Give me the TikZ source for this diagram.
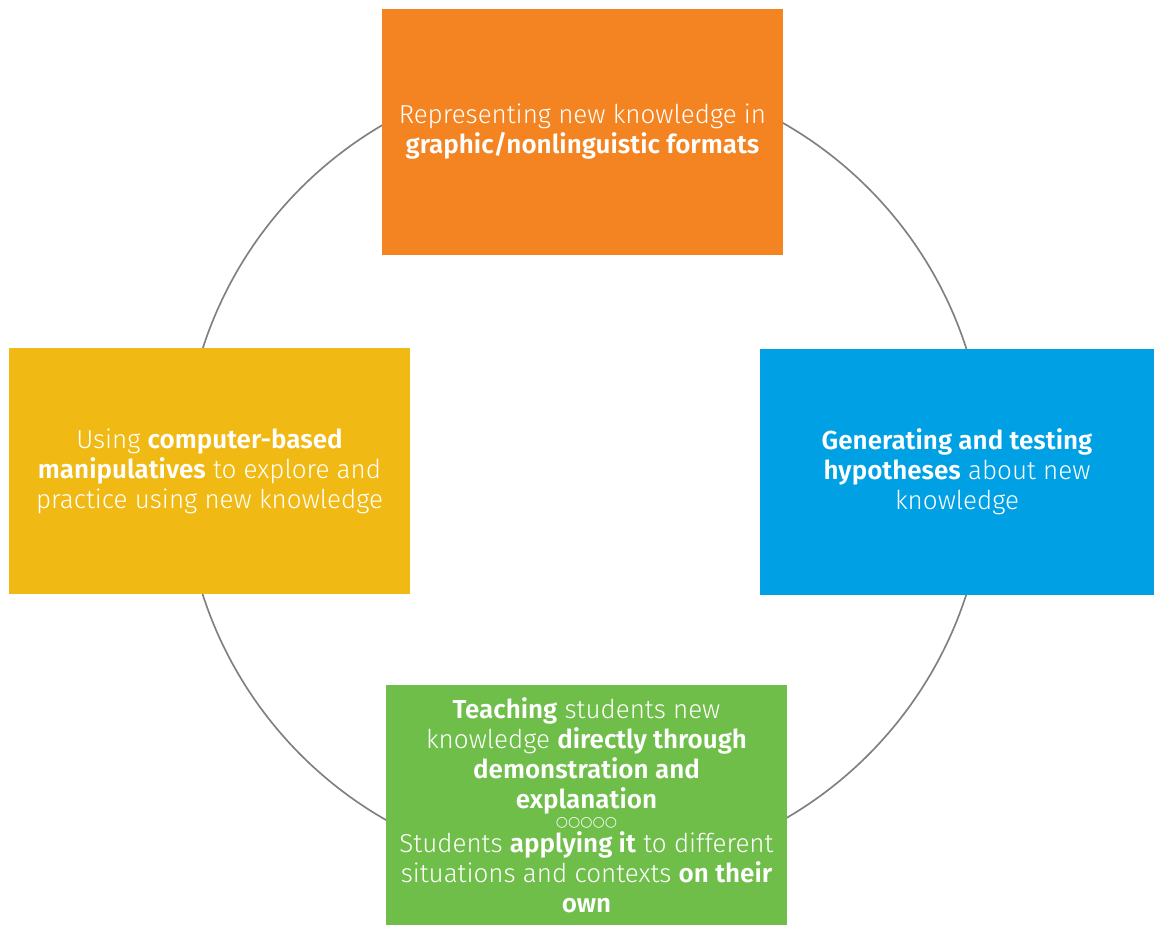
\documentclass[tikz,border=0pt]{standalone}
\usepackage{fontspec}
\setmainfont{Fira Sans Light}[BoldFont={Fira Sans SemiBold}]
\newfontfamily\symfont{DejaVu Sans}
\usepackage{tikz}

\definecolor{orangebox}{HTML}{F38421}
\definecolor{yellowbox}{HTML}{F0B913}
\definecolor{bluebox}{HTML}{00A1E4}
\definecolor{greenbox}{HTML}{6FBE4A}
\definecolor{ringgray}{HTML}{808080}

\tikzset{
  box/.style={minimum width=300.75pt, minimum height=184.5pt, inner sep=0pt,
    text=white, align=center, font=\fontsize{19.5}{22.5}\selectfont},
  ring/.style={draw=ringgray, line width=1.25pt}
}

\begin{document}
\begin{tikzpicture}[x=0.75pt,y=-0.75pt]
\useasboundingbox (0,0) rectangle (1154,925);
\draw[ring] (584.5,471.5) circle (401);
\node[box, fill=orangebox] (rep) at (582.5,131.5) {Representing new knowledge in\\\textbf{graphic/nonlinguistic formats}};
\node[box, fill=yellowbox] (comp) at (209.5,471) {Using \textbf{computer-based}\\\textbf{manipulatives} to explore and\\practice using new knowledge};
\node[box, fill=bluebox, minimum width=295.5pt] (hyp) at (957,471.5) {\textbf{Generating and testing}\\\textbf{hypotheses} about new\\knowledge};
\node[box, fill=greenbox, minimum height=180pt] (teach) at (586.5,805) {\textbf{Teaching} students new\\knowledge \textbf{directly through}\\\textbf{demonstration and}\\\textbf{explanation}\\[-9pt]{\symfont\fontsize{10.5}{9}\selectfont ○○○○○}\\[-3pt]Students \textbf{applying it} to different\\situations and contexts \textbf{on their}\\\textbf{own}};
\end{tikzpicture}
\end{document}
